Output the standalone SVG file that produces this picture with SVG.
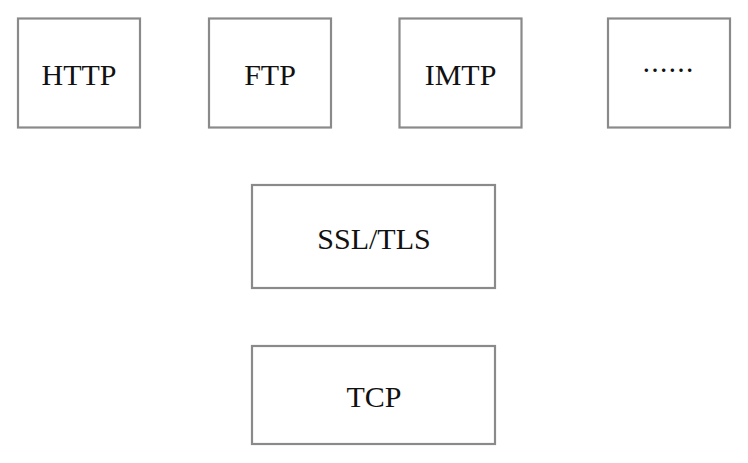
<svg xmlns="http://www.w3.org/2000/svg" width="748" height="463" viewBox="0 0 748 463">
<style>
.box{fill:#fff;stroke:#8a8a8a;stroke-width:2.2}
.lbl{font-family:"Liberation Serif","Times New Roman",serif;font-size:30px;fill:#111;text-anchor:middle}
.dots{font-family:"Noto Sans CJK SC",sans-serif;font-size:26px;fill:#111;text-anchor:middle}
</style>
<rect width="748" height="463" fill="#fff"/>
<g id="http"><rect class="box" x="18" y="18.5" width="122" height="109"/><text class="lbl" x="79" y="85">HTTP</text></g>
<g id="ftp"><rect class="box" x="209" y="18.5" width="122" height="109"/><text class="lbl" x="270" y="85">FTP</text></g>
<g id="imtp"><rect class="box" x="399.5" y="18.5" width="122" height="109"/><text class="lbl" x="460.5" y="85">IMTP</text></g>
<g id="more"><rect class="box" x="608" y="18.5" width="122" height="109"/><text class="dots" x="668" y="80">……</text></g>
<g id="ssl"><rect class="box" x="252" y="185" width="243" height="103"/><text class="lbl" x="374" y="249">SSL/TLS</text></g>
<g id="tcp"><rect class="box" x="252" y="346" width="243" height="98"/><text class="lbl" x="374" y="407">TCP</text></g>
<g id="connectors"></g>
</svg>
